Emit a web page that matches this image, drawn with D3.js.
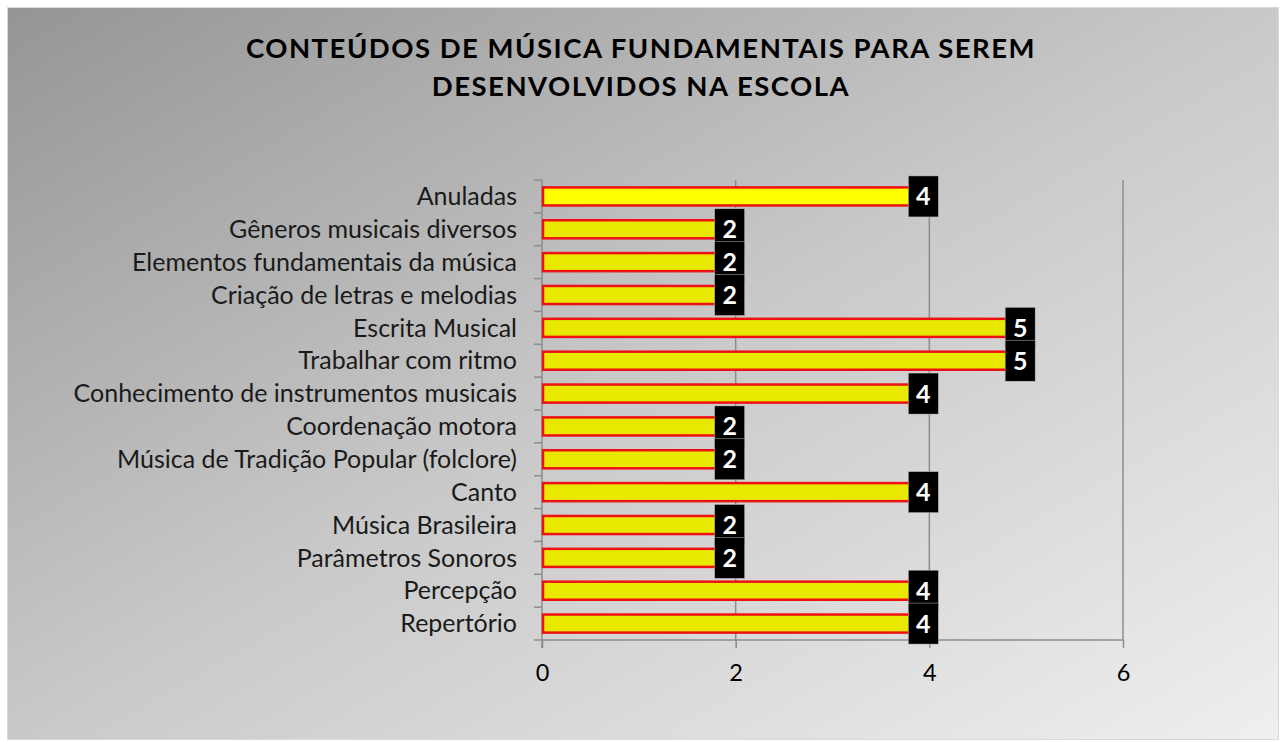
<!DOCTYPE html>
<html>
<head>
<meta charset="utf-8">
<script src="https://cdn.jsdelivr.net/npm/d3@7"></script>
<style>
  body { margin: 0; background: #fff; }
  text { font-family: Lato, "Open Sans", sans-serif; }
</style>
</head>
<body>
<svg id="chart" width="1281" height="742"></svg>
<script>
// categories, top to bottom
const categories = [
  "Anuladas",
  "Gêneros musicais diversos",
  "Elementos fundamentais da música",
  "Criação de letras e melodias",
  "Escrita Musical",
  "Trabalhar com ritmo",
  "Conhecimento de instrumentos musicais",
  "Coordenação motora",
  "Música de Tradição Popular (folclore)",
  "Canto",
  "Música Brasileira",
  "Parâmetros Sonoros",
  "Percepção",
  "Repertório"
];
const values = [4, 2, 2, 2, 5, 5, 4, 2, 2, 4, 2, 2, 4, 4];
const xTicks = [0, 2, 4, 6];
const titleLines = [
  "CONTEÚDOS DE MÚSICA FUNDAMENTAIS PARA SEREM",
  "DESENVOLVIDOS NA ESCOLA"
];

const svg = d3.select("#chart");
const width = +svg.attr("width");
const height = +svg.attr("height");

// background gradient
const defs = svg.append("defs");
const grad = defs.append("linearGradient")
  .attr("id", "bg")
  .attr("x1", 0).attr("y1", 0).attr("x2", 1).attr("y2", 1);
grad.append("stop").attr("offset", "0%").attr("stop-color", "#959595");
grad.append("stop").attr("offset", "50%").attr("stop-color", "#c9c9c9");
grad.append("stop").attr("offset", "100%").attr("stop-color", "#efefef");

svg.append("rect")
  .attr("x", 7.5).attr("y", 7.5)
  .attr("width", width - 10).attr("height", height - 10)
  .attr("fill", "url(#bg)")
  .attr("stroke", "#d9d9d9")
  .attr("stroke-width", 1);

// title
const title = svg.append("g");
titleLines.forEach((line, i) => {
  title.append("text")
    .attr("x", 641)
    .attr("y", 58 + i * 38)
    .attr("text-anchor", "middle")
    .style("font-size", "27.5px")
    .style("font-weight", "bold")
    .style("letter-spacing", "1.5px")
    .attr("fill", "#000")
    .text(line);
});

const margin = { top: 180, left: 542, right: 1123, bottom: 640 };

const x = d3.scaleLinear()
  .domain([0, 6])
  .range([margin.left, margin.right]);

const y = d3.scaleBand()
  .domain(categories)
  .range([margin.top, margin.bottom])
  .paddingInner(0.45)
  .paddingOuter(0.225);

const yStep = d3.scaleBand()
  .domain(categories)
  .range([margin.top, margin.bottom]);

// gridlines
svg.append("g")
  .selectAll("line")
  .data(xTicks.filter(d => d > 0))
  .join("line")
  .attr("x1", d => x(d)).attr("x2", d => x(d))
  .attr("y1", margin.top).attr("y2", margin.bottom)
  .attr("stroke", "#8c8c8c")
  .attr("stroke-width", 1.5);

// x axis
const xAxis = svg.append("g")
  .attr("transform", `translate(0,${margin.bottom})`)
  .call(d3.axisBottom(x).tickValues(xTicks).tickFormat(d3.format("d")).tickSize(8).tickPadding(16));
xAxis.select(".domain").attr("stroke", "#8c8c8c").attr("stroke-width", 1.5)
  .attr("d", `M${margin.left},0H${margin.right}`);
xAxis.selectAll(".tick line").attr("stroke", "#8c8c8c").attr("stroke-width", 1.5);
xAxis.selectAll(".tick text")
  .style("font-size", "23.5px")
  .style("font-family", "Lato, sans-serif")
  .attr("fill", "#000");

// y axis line with band-edge ticks
const yAxisG = svg.append("g");
yAxisG.append("line")
  .attr("x1", margin.left).attr("x2", margin.left)
  .attr("y1", margin.top).attr("y2", margin.bottom + 8)
  .attr("stroke", "#8c8c8c").attr("stroke-width", 1.5);
yAxisG.selectAll("line.edge")
  .data(categories.concat([null]))
  .join("line")
  .attr("class", "edge")
  .attr("x1", margin.left - 8).attr("x2", margin.left)
  .attr("y1", (d, i) => margin.top + i * yStep.step())
  .attr("y2", (d, i) => margin.top + i * yStep.step())
  .attr("stroke", "#8c8c8c").attr("stroke-width", 1.5);

// category labels
yAxisG.selectAll("text")
  .data(categories)
  .join("text")
  .attr("x", margin.left - 25)
  .attr("y", d => yStep(d) + yStep.bandwidth() / 2)
  .attr("dy", "0.35em")
  .attr("text-anchor", "end")
  .style("font-size", "25px")
  .attr("fill", "#1a1a1a")
  .text(d => d);

// bars
const data = categories.map((c, i) => ({ cat: c, value: values[i], first: i === 0 }));

svg.append("g")
  .selectAll("rect")
  .data(data)
  .join("rect")
  .attr("x", x(0) + 1)
  .attr("y", d => y(d.cat))
  .attr("width", d => x(d.value) - x(0) - 1)
  .attr("height", y.bandwidth())
  .attr("fill", d => d.first ? "#ffff00" : "#e8e800")
  .attr("stroke", "#ee1111")
  .attr("stroke-width", 2.5);

// data labels
const lab = svg.append("g")
  .selectAll("g")
  .data(data)
  .join("g")
  .attr("transform", d => `translate(${x(d.value) - 6},${y(d.cat) + y.bandwidth() / 2})`);

lab.append("rect")
  .attr("x", -15).attr("y", -20.5)
  .attr("width", 30).attr("height", 41)
  .attr("fill", "#000")
  .attr("stroke", "#bbb")
  .attr("stroke-width", 0.5);

lab.append("text")
  .attr("text-anchor", "middle")
  .attr("dy", "0.36em")
  .style("font-size", "25px")
  .style("font-weight", "bold")
  .attr("fill", "#fff")
  .text(d => d.value);
</script>
</body>
</html>
